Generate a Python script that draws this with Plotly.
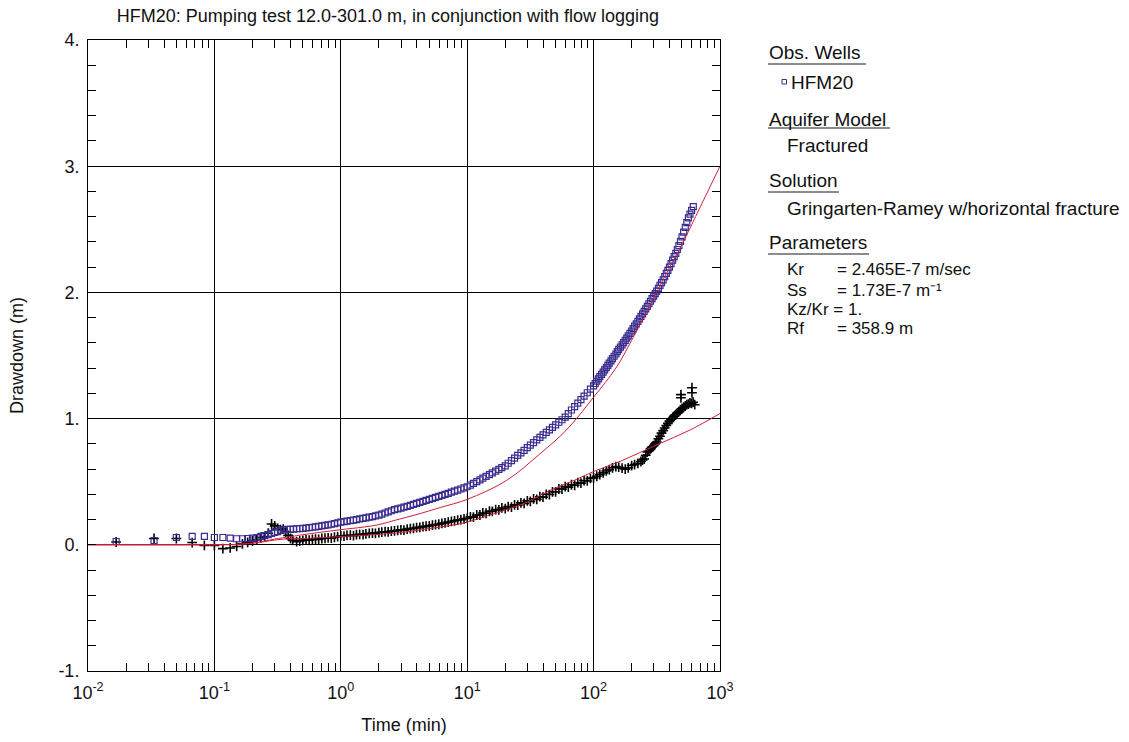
import plotly.graph_objects as go

# ---------------- data ----------------
blue_t = [0.0167, 0.0333, 0.05, 0.0667, 0.0833, 0.1, 0.1167, 0.1333, 0.15, 0.1667, 0.1833, 0.2, 0.2167, 0.2333, 0.25, 0.2667, 0.2833, 0.3,
          0.316, 0.335, 0.355, 0.376, 0.398, 0.422, 0.447, 0.473, 0.501, 0.531, 0.562, 0.596, 0.631, 0.668, 0.708, 0.750, 0.794, 0.841, 0.891, 0.944,
          1.00, 1.06, 1.12, 1.19, 1.26, 1.33, 1.41, 1.50, 1.58, 1.68, 1.78, 1.88, 2.00, 2.11, 2.24, 2.37, 2.51, 2.66, 2.82, 2.99, 3.16, 3.35,
          3.55, 3.76, 3.98, 4.22, 4.47, 4.73, 5.01, 5.31, 5.62, 5.96, 6.31, 6.68, 7.08, 7.50, 7.94, 8.41, 8.91, 9.44,
          10.0, 10.6, 11.2, 11.9, 12.6, 13.3, 14.1, 15.0, 15.8, 16.8, 17.8, 18.8, 20.0, 21.1, 22.4, 23.7, 25.1, 26.6, 28.2, 29.9, 31.6, 33.5,
          35.5, 37.6, 39.8, 42.2, 44.7, 47.3, 50.1, 53.1, 56.2, 59.6, 63.1, 66.8, 70.8, 75.0, 79.4, 84.1, 89.1, 94.4,
          100, 106, 112, 119, 126, 133, 141, 150, 158, 168, 178, 188, 200, 211, 224, 237, 251, 266, 282, 299,
          316, 335, 355, 376, 398, 422, 447, 473, 501, 531, 562, 596,
          102.9, 109.0, 115.5, 122.3, 129.6, 137.3, 145.3, 154.0, 163.1, 172.8, 183.0, 193.9, 205.4, 217.6, 230.5, 244.1,
          258.5, 273.8, 290.1, 307.3, 325.5, 344.7, 365.2, 386.8, 409.7, 434.0, 459.7, 486.9, 515.8, 546.4, 578.8, 615]
blue_s = [0.026, 0.034, 0.058, 0.066, 0.066, 0.058, 0.058, 0.053, 0.048, 0.048, 0.050, 0.053, 0.058, 0.066, 0.072, 0.080, 0.090, 0.098,
          0.105, 0.115, 0.12, 0.122, 0.123, 0.125, 0.127, 0.128, 0.13, 0.133, 0.136, 0.139, 0.142, 0.146, 0.15, 0.154, 0.158, 0.163, 0.168, 0.174,
          0.18, 0.184, 0.188, 0.192, 0.196, 0.2, 0.205, 0.21, 0.214, 0.219, 0.224, 0.229, 0.235, 0.243, 0.252, 0.261, 0.27, 0.278, 0.284, 0.291,
          0.298, 0.305, 0.312, 0.32, 0.328, 0.336, 0.344, 0.352, 0.36, 0.368, 0.376, 0.384, 0.392, 0.4, 0.408, 0.417, 0.426, 0.434, 0.442, 0.451,
          0.46, 0.473, 0.487, 0.5, 0.514, 0.528, 0.542, 0.556, 0.57, 0.584, 0.598, 0.612, 0.626, 0.646, 0.667, 0.687, 0.708, 0.728, 0.749, 0.77,
          0.79, 0.81, 0.831, 0.851, 0.871, 0.891, 0.911, 0.931, 0.951, 0.971, 0.991, 1.011, 1.04, 1.068, 1.095, 1.123, 1.15, 1.178, 1.205, 1.233,
          1.26, 1.296, 1.332, 1.368, 1.404, 1.44, 1.476, 1.512, 1.548, 1.584, 1.62, 1.656, 1.694, 1.732, 1.77, 1.81, 1.85, 1.89, 1.93, 1.97,
          2.01, 2.055, 2.1, 2.15, 2.2, 2.255, 2.31, 2.37, 2.44, 2.515, 2.59, 2.65,
          1.278, 1.314, 1.35, 1.386, 1.422, 1.458, 1.494, 1.53, 1.566, 1.602, 1.638, 1.675, 1.713, 1.751, 1.79, 1.83,
          1.87, 1.91, 1.95, 1.99, 2.032, 2.078, 2.125, 2.175, 2.228, 2.283, 2.34, 2.405, 2.478, 2.553, 2.62, 2.68]

black_t = [0.0167, 0.0333, 0.05, 0.0667, 0.0833, 0.1, 0.1167, 0.1333, 0.15, 0.1667, 0.1833, 0.2, 0.2167, 0.2333, 0.25, 0.2667, 0.2833,
           0.3, 0.3167, 0.3333, 0.35, 0.3667, 0.3833, 0.4, 0.4167,
           0.447, 0.473, 0.501, 0.531, 0.562, 0.596, 0.631, 0.668, 0.708, 0.750, 0.794, 0.841, 0.891, 0.944,
           1.00, 1.06, 1.12, 1.19, 1.26, 1.33, 1.41, 1.50, 1.58, 1.68, 1.78, 1.88, 2.00, 2.11, 2.24, 2.37, 2.51, 2.66, 2.82, 2.99, 3.16, 3.35,
           3.55, 3.76, 3.98, 4.22, 4.47, 4.73, 5.01, 5.31, 5.62, 5.96, 6.31, 6.68, 7.08, 7.50, 7.94, 8.41, 8.91, 9.44,
           10.0, 10.6, 11.2, 11.9, 12.6, 13.3, 14.1, 15.0, 15.8, 16.8, 17.8, 18.8, 20.0, 21.1, 22.4, 23.7, 25.1, 26.6, 28.2, 29.9, 31.6, 33.5,
           35.5, 37.6, 39.8, 42.2, 44.7, 47.3, 50.1, 53.1, 56.2, 59.6, 63.1, 66.8, 70.8, 75.0, 79.4, 84.1, 89.1, 94.4,
           100, 106, 112, 119, 126, 133, 141, 150, 158, 168, 178, 188, 200, 211, 224, 237, 251, 266, 282, 299,
           316, 335, 355, 376, 398, 422, 447, 473, 501, 531, 562, 596, 631,
           244.1, 258.5, 273.8, 290.1, 307.3, 325.5, 344.7, 365.2, 386.8, 409.7, 434.0, 459.7, 486.9, 515.8, 546.4, 578.8, 613.1,
           491, 491, 600, 600]
black_s = [0.022, 0.05, 0.05, 0.018, -0.005, -0.006, -0.03, -0.025, -0.013, 0.008, 0.02, 0.03, 0.04, 0.058, 0.066, 0.092, 0.165,
           0.15, 0.13, 0.12, 0.125, 0.1, 0.075, 0.05, 0.035,
           0.025, 0.03, 0.035, 0.038, 0.036, 0.042, 0.045, 0.043, 0.05, 0.052, 0.055, 0.053, 0.06, 0.064,
           0.07, 0.068, 0.074, 0.076, 0.073, 0.08, 0.083, 0.081, 0.087, 0.09, 0.093, 0.09, 0.097, 0.1, 0.104, 0.102, 0.108, 0.11, 0.114, 0.118,
           0.116, 0.124, 0.128, 0.13, 0.136, 0.138, 0.144, 0.147, 0.15, 0.156, 0.16, 0.163, 0.17, 0.173, 0.18, 0.185, 0.19, 0.196, 0.199, 0.206,
           0.21, 0.222, 0.219, 0.236, 0.236, 0.252, 0.25, 0.266, 0.265, 0.279, 0.276, 0.292, 0.287, 0.303, 0.299, 0.316, 0.314, 0.332, 0.328, 0.348,
           0.344, 0.364, 0.36, 0.381, 0.378, 0.4, 0.398, 0.42, 0.419, 0.442, 0.441, 0.461, 0.457, 0.476, 0.472, 0.492, 0.489, 0.509, 0.506, 0.526,
           0.53, 0.543, 0.556, 0.57, 0.585, 0.596, 0.61, 0.62, 0.615, 0.607, 0.6, 0.61, 0.628, 0.636, 0.645, 0.66, 0.68, 0.735, 0.76, 0.785,
           0.815, 0.86, 0.905, 0.945, 0.98, 1.005, 1.03, 1.055, 1.08, 1.1, 1.115, 1.12, 1.11,
           0.672, 0.71, 0.745, 0.775, 0.8, 0.84, 0.885, 0.925, 0.962, 0.995, 1.02, 1.045, 1.07, 1.09, 1.11, 1.125, 1.13,
           1.19, 1.165, 1.245, 1.205]

fit_blue_t = [0.01, 0.05, 0.1, 0.15, 0.2, 0.25, 0.3, 0.4, 0.5, 0.7, 1, 1.5, 2, 2.7, 4, 6.1, 10, 20.5, 37.5, 61,
              100, 150, 200, 300, 400, 500, 700, 1000]
fit_blue_s = [0, 0, 0, 0.004, 0.014, 0.03, 0.045, 0.065, 0.08, 0.1, 0.12, 0.14, 0.16, 0.195, 0.24, 0.295, 0.36, 0.51, 0.72, 0.91,
              1.17, 1.4, 1.62, 1.96, 2.2, 2.38, 2.68, 3.0]

fit_black_t = [0.01, 0.05, 0.1, 0.15, 0.2, 0.25, 0.3, 0.35, 0.4, 0.5, 0.7, 1, 1.5, 2, 2.7, 4, 6, 9.3, 15, 20, 30, 45, 70,
               100, 170, 313, 580, 1000]
fit_black_s = [0, 0, 0, 0.003, 0.012, 0.025, 0.038, 0.045, 0.048, 0.05, 0.057, 0.065, 0.075, 0.083, 0.093, 0.115, 0.14, 0.172,
               0.235, 0.275, 0.34, 0.43, 0.51, 0.58, 0.67, 0.79, 0.91, 1.04]

x_tick_vals = [0.01, 0.1, 1, 10, 100, 1000]
x_tick_text = ["10<sup>-2</sup>", "10<sup>-1</sup>", "10<sup>0</sup>", "10<sup>1</sup>", "10<sup>2</sup>", "10<sup>3</sup>"]
y_tick_vals = [-1, 0, 1, 2, 3, 4]
y_tick_text = ["-1.", "0.", "1.", "2.", "3.", "4."]

title_text = "HFM20: Pumping test 12.0-301.0 m, in conjunction with flow logging"
panel_headers = ["Obs. Wells", "Aquifer Model", "Solution", "Parameters"]
panel_well = "HFM20"
panel_model = "Fractured"
panel_solution = "Gringarten-Ramey w/horizontal fracture"
param_names = ["Kr", "Ss", "Rf"]
param_values = ["= 2.465E-7 m/sec", "= 1.73E-7 m\u207b\u00b9", "= 358.9 m"]
param_kzkr = "Kz/Kr = 1."

# ---------------- styling ----------------
FONT = "Arial, 'Liberation Sans', sans-serif"
BLUE = "#3a2d8f"
RED = "#d0203a"
L, R, T, B = 88, 720, 40, 671
W, H = 1129, 742


def px(xp):
    return (xp - L) / (R - L)


def py(yp):
    return (B - yp) / (B - T)


fig = go.Figure()
fig.add_trace(go.Scatter(x=black_t, y=black_s, mode="markers", name="HFM20 (pumping)",
                         marker=dict(symbol="cross-thin-open", size=7, color="black",
                                     line=dict(color="black", width=1.6)), showlegend=False))
fig.add_trace(go.Scatter(x=blue_t, y=blue_s, mode="markers", name="HFM20",
                         marker=dict(symbol="square-open", size=6, color=BLUE,
                                     line=dict(color=BLUE, width=1.2)), showlegend=False))
fig.add_trace(go.Scatter(x=fit_black_t, y=fit_black_s, mode="lines", line=dict(color=RED, width=1, shape="spline"),
                         showlegend=False))
fig.add_trace(go.Scatter(x=fit_blue_t, y=fit_blue_s, mode="lines", line=dict(color=RED, width=1, shape="spline"),
                         showlegend=False))

axis_common = dict(showline=True, linecolor="black", linewidth=1, mirror="allticks",
                   showgrid=True, gridcolor="black", gridwidth=1, zeroline=False,
                   ticks="inside", ticklen=8, tickcolor="black", tickwidth=1,
                   tickfont=dict(family=FONT, size=18, color="#111"))

fig.update_xaxes(type="log", range=[-2, 3], tickmode="array", tickvals=x_tick_vals, ticktext=x_tick_text,
                 minor=dict(ticks="inside", ticklen=8, tickcolor="black", tickwidth=1, dtick="D1", showgrid=False),
                 title=dict(text="Time (min)", font=dict(family=FONT, size=18, color="#111"), standoff=16),
                 ticklabelstandoff=5, **axis_common)
fig.update_yaxes(range=[-1, 4], tickmode="array", tickvals=y_tick_vals, ticktext=y_tick_text,
                 minor=dict(ticks="inside", ticklen=8, tickcolor="black", tickwidth=1, dtick=0.2, showgrid=False),
                 title=dict(text="Drawdown (m)", font=dict(family=FONT, size=18, color="#111"), standoff=30),
                 ticklabelstandoff=4, **axis_common)

annotations = []


def text(s, x, y, size=19):
    annotations.append(dict(text=s, x=px(x), y=py(y), xref="paper", yref="paper", xanchor="left",
                            yanchor="middle", showarrow=False, font=dict(family=FONT, size=size, color="#111")))


shapes = []
header_pos = [(53, 64, 866), (120, 128, 890), (180, 192, 839), (243, 254, 869)]
for name, (yc, yu, xe) in zip(panel_headers, header_pos):
    text(name, 767, yc)
    shapes.append(dict(type="line", xref="paper", yref="paper", x0=px(768), x1=px(xe), y0=py(yu), y1=py(yu),
                       line=dict(color="#666", width=1.5)))
text(panel_well, 789, 82)
shapes.append(dict(type="rect", xref="paper", yref="paper", x0=px(782), x1=px(786.5), y0=py(84), y1=py(79.5),
                   line=dict(color=BLUE, width=1)))
text(panel_model, 785, 145)
text(panel_solution, 785, 208)
for name, val, yc in zip(param_names, param_values, [269, 290, 328]):
    text(name, 785, yc, 17)
    text(val, 835, yc, 17)
text(param_kzkr, 785, 309, 17)

fig.update_layout(
    width=W, height=H, margin=dict(l=L, r=W - R, t=T, b=H - B),
    paper_bgcolor="white", plot_bgcolor="white",
    font=dict(family=FONT, size=18, color="#111"),
    title=dict(text=title_text, x=px(388), xref="paper", xanchor="center", y=1 - 16 / H, yref="container",
               yanchor="middle", font=dict(family=FONT, size=18, color="#111")),
    showlegend=False,
    annotations=annotations, shapes=shapes,
)

fig.write_html("out.html")
